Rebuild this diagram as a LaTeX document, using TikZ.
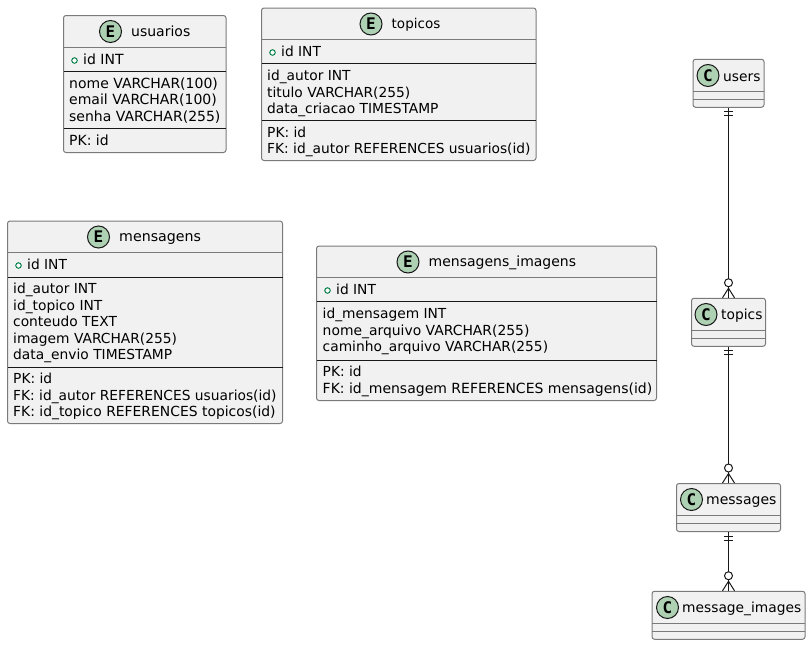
\documentclass[tikz,border=0pt]{standalone}
\usepackage{fontspec}
\setmainfont{DejaVu Sans}
\newfontfamily\spotfont{DejaVu Sans Mono}
\usetikzlibrary{positioning,calc}
\definecolor{boxfill}{HTML}{F1F1F1}
\definecolor{boxline}{HTML}{7A7A7A}
\definecolor{spot}{HTML}{ADD1B2}
\definecolor{ink}{HTML}{181818}
\definecolor{keyline}{HTML}{038048}
\definecolor{keyfill}{HTML}{FFFFFF}
\tikzset{
  x=1pt,y=-1pt,
  tbox/.style={draw=boxline,fill=boxfill,line width=1pt,rounded corners=2.5pt},
  hsep/.style={draw=boxline,line width=1pt},
  dsep/.style={draw=ink,line width=1pt},
  txt/.style={inner sep=0pt,anchor=base west,text=black,font=\fontsize{13.8}{16}\selectfont},
  txtwide/.style={txt,font=\fontsize{14}{16}\selectfont},
  txtmid/.style={txt,font=\fontsize{13.9}{16}\selectfont},
  txtnarrow/.style={txt,font=\fontsize{13.5}{16}\selectfont},
  txthuge/.style={txt,font=\fontsize{14.2}{16}\selectfont},
  spotc/.style={circle,draw=ink,fill=spot,line width=1pt,minimum size=22pt,inner sep=0pt,font=\spotfont\fontsize{16}{16}\bfseries\selectfont,text=black},
  pkdot/.style={circle,draw=keyline,line width=1pt,fill=keyfill,minimum size=5.5pt,inner sep=0pt},
  link/.style={draw=ink,line width=1pt},
  ringm/.style={circle,draw=ink,fill=white,line width=1pt,minimum size=8pt,inner sep=0pt},
}
\newcommand{\rulerow}[4]{\draw[#4] (#1,#3) -- (#2,#3);}
\begin{document}
\begin{tikzpicture}
\useasboundingbox (0,0) rectangle (811,645);
% usuarios
\path[tbox] (63.5,15.5) rectangle (226,152.5);
\rulerow{63.5}{226}{47.5}{hsep}\rulerow{63.5}{226}{71.5}{dsep}\rulerow{63.5}{226}{128.5}{dsep}
\node[spotc] (uE) at (110.5,31.5) {E};
\node[txtwide] (uT) at (131,36) {usuarios};
\node[pkdot] (uK) at (74.5,60.5) {};
\node[txtwide] (u1) at (83,64) {id INT};
\node[txtwide] (u2) at (69,88) {nome VARCHAR(100)};
\node[txtwide] (u3) at (69,104.5) {email VARCHAR(100)};
\node[txtwide] (u4) at (69,121) {senha VARCHAR(255)};
\node[txtwide] (u5) at (69,145) {PK: id};
% topicos
\path[tbox] (261.5,8) rectangle (536,160.5);
\rulerow{261.5}{536}{39.5}{hsep}\rulerow{261.5}{536}{63.5}{dsep}\rulerow{261.5}{536}{120.5}{dsep}
\node[spotc] (tE) at (371,24) {E};
\node[txtnarrow] (tT) at (391.5,28.5) {topicos};
\node[pkdot] (tK) at (272.5,52.5) {};
\node[txt] (t1) at (281,56.5) {id INT};
\node[txt] (t2) at (267,80.5) {id\_autor INT};
\node[txt] (t3) at (267,97) {titulo VARCHAR(255)};
\node[txt] (t4) at (267,113.5) {data\_criacao TIMESTAMP};
\node[txt] (t5) at (267,137) {PK: id};
\node[txt] (t6) at (267,153.5) {FK: id\_autor REFERENCES usuarios(id)};
% mensagens
\path[tbox] (7.5,221) rectangle (282.5,423.5);
\rulerow{7.5}{282.5}{252.5}{hsep}\rulerow{7.5}{282.5}{277}{dsep}\rulerow{7.5}{282.5}{367}{dsep}
\node[spotc] (mE) at (98.5,237) {E};
\node[txthuge] (mT) at (119,241.5) {mensagens};
\node[pkdot] (mK) at (18.5,265.5) {};
\node[txt] (m1) at (27,269.5) {id INT};
\node[txt] (m2) at (13,293.5) {id\_autor INT};
\node[txt] (m3) at (13,310) {id\_topico INT};
\node[txt] (m4) at (13,326.5) {conteudo TEXT};
\node[txt] (m5) at (13,343) {imagem VARCHAR(255)};
\node[txt] (m6) at (13,359.5) {data\_envio TIMESTAMP};
\node[txt] (m7) at (13,383.5) {PK: id};
\node[txt] (m8) at (13,400) {FK: id\_autor REFERENCES usuarios(id)};
\node[txtmid] (m9) at (13,416.5) {FK: id\_topico REFERENCES topicos(id)};
% mensagens_imagens
\path[tbox] (316.5,246) rectangle (656.5,400.5);
\rulerow{316.5}{656.5}{277.5}{hsep}\rulerow{316.5}{656.5}{301.5}{dsep}\rulerow{316.5}{656.5}{360}{dsep}
\node[spotc] (iE) at (408,262) {E};
\node[txtwide] (iT) at (428.5,266.5) {mensagens\_imagens};
\node[pkdot] (iK) at (327.5,290.5) {};
\node[txt] (i1) at (336,294.5) {id INT};
\node[txt] (i2) at (322.5,318.5) {id\_mensagem INT};
\node[txtmid] (i3) at (322.5,335) {nome\_arquivo VARCHAR(255)};
\node[txt] (i4) at (322.5,351.5) {caminho\_arquivo VARCHAR(255)};
\node[txt] (i5) at (322.5,376.5) {PK: id};
\node[txtwide] (i6) at (322.5,393) {FK: id\_mensagem REFERENCES mensagens(id)};
% class boxes
\node[tbox,inner sep=0pt,minimum width=71pt,minimum height=48pt] (users) at (728.5,83.25) {};
\rulerow{693}{764}{91.5}{hsep}\rulerow{693}{764}{99.5}{hsep}
\node[spotc] (usC) at (708,75.5) {C};
\node[txt] (usT) at (723,81) {users};
\node[tbox,inner sep=0pt,minimum width=74pt,minimum height=48pt] (topics) at (728.5,322.25) {};
\rulerow{691.5}{765.5}{330.5}{hsep}\rulerow{691.5}{765.5}{338.5}{hsep}
\node[spotc] (toC) at (706,314.5) {C};
\node[txt] (toT) at (721,319.5) {topics};
\node[tbox,inner sep=0pt,minimum width=104pt,minimum height=48pt] (messages) at (728.5,507.5) {};
\rulerow{676.5}{780.5}{515.5}{hsep}\rulerow{676.5}{780.5}{523.5}{hsep}
\node[spotc] (meC) at (691.5,499.5) {C};
\node[txtwide] (meT) at (706,504.5) {messages};
\node[tbox,inner sep=0pt,minimum width=153pt,minimum height=48pt] (imgs) at (728.5,615.25) {};
\rulerow{652}{805}{623.5}{hsep}\rulerow{652}{805}{631.5}{hsep}
\node[spotc] (imC) at (667.5,607.5) {C};
\node[txt] (imT) at (682,612.5) {message\_images};
% connectors
\foreach \a/\b in {users/topics,topics/messages,messages/imgs}{
  \draw[link] (\a.south) -- (\b.north);
  \draw[link] ([xshift=-4.5pt,yshift=-4pt]\a.south) -- ++(9,0);
  \draw[link] ([xshift=-4.5pt,yshift=-8pt]\a.south) -- ++(9,0);
  \draw[link] ([xshift=-6pt]\b.north) -- ([yshift=9.5pt]\b.north) -- ([xshift=6pt]\b.north);
  \node[ringm] (\b-ring) at ([yshift=15pt]\b.north) {};
}
\end{tikzpicture}
\end{document}
